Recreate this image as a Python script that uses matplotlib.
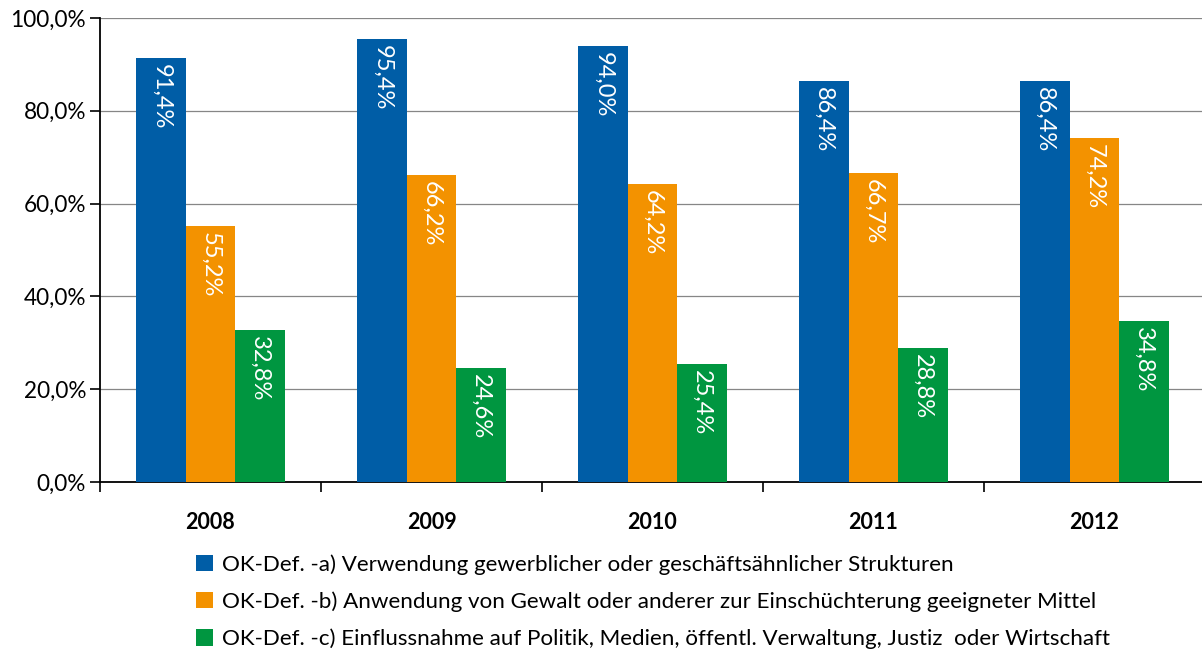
import matplotlib
matplotlib.use("Agg")
import matplotlib.pyplot as plt
from matplotlib.patches import Patch
import numpy as np

plt.rcParams['font.family'] = ['Lato', 'DejaVu Sans']

years = ["2008", "2009", "2010", "2011", "2012"]
series_a = [91.4, 95.4, 94.0, 86.4, 86.4]
series_b = [55.2, 66.2, 64.2, 66.7, 74.2]
series_c = [32.8, 24.6, 25.4, 28.8, 34.8]
labels = [
    "OK-Def. -a) Verwendung gewerblicher oder geschäftsähnlicher Strukturen",
    "OK-Def. -b) Anwendung von Gewalt oder anderer zur Einschüchterung geeigneter Mittel",
    "OK-Def. -c) Einflussnahme auf Politik, Medien, öffentl. Verwaltung, Justiz  oder Wirtschaft",
]
colors = ["#005DA6", "#F39200", "#009640"]

W, H = 1202, 659
fig = plt.figure(figsize=(W / 100, H / 100), dpi=100)
ax = fig.add_axes([100 / W, (H - 482) / H, 1105 / W, 464 / H])

x = np.arange(len(years))
bw = 0.224
for i, (vals, c) in enumerate(zip([series_a, series_b, series_c], colors)):
    pos = x + (i - 1) * bw
    ax.bar(pos, vals, width=bw, color=c, zorder=3)
    for p, v in zip(pos, vals):
        ax.text(p, v - 1.3, f"{v:.1f}%".replace(".", ","), rotation=270,
                ha="center", va="top", color="white", fontsize=17, zorder=4)

ax.set_xlim(-0.5, 4.5)
ax.set_ylim(0, 100)
ax.set_yticks(np.arange(0, 101, 20))
ax.set_yticklabels([f"{v:.1f}%".replace(".", ",") for v in np.arange(0, 101, 20)], fontsize=16.3)
ax.yaxis.grid(True, color="#868686", linewidth=0.9, zorder=0)
ax.set_xticks(np.arange(-0.5, 5, 1))
ax.set_xticklabels([])
ax.tick_params(axis="x", direction="out", length=7, width=1.2, color="black")
ax.tick_params(axis="y", direction="out", length=7, width=1.2, color="black", pad=3)
for s in ["top", "right"]:
    ax.spines[s].set_visible(False)
for s in ["left", "bottom"]:
    ax.spines[s].set_linewidth(1.3)
    ax.spines[s].set_color("black")

for xi, y in zip(x, years):
    ax.text(xi, -6.5, y, ha="center", va="top", fontsize=15.5, fontweight="bold",
            transform=ax.transData)

handles = [Patch(facecolor=c, edgecolor="none") for c in colors]
fig.legend(handles, labels, loc="upper left", bbox_to_anchor=(187 / W, 1 - 545 / H),
           frameon=False, fontsize=16.1, handlelength=0.75, handleheight=0.75,
           handletextpad=0.4, labelspacing=0.75, borderaxespad=0)

fig.savefig("out.png", dpi=100)
